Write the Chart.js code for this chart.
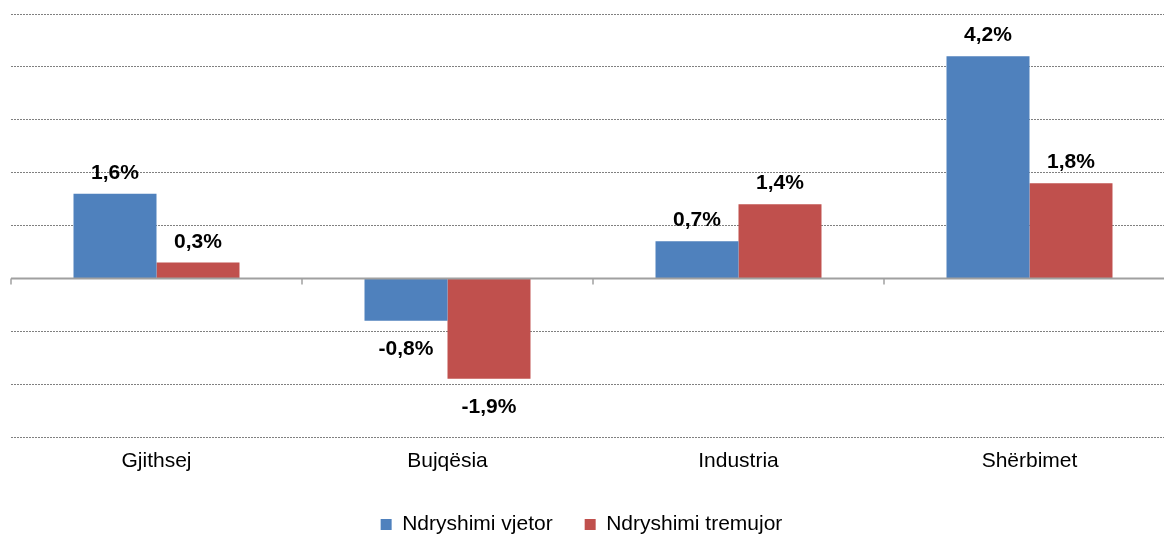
<!DOCTYPE html>
<html>
<head>
<meta charset="utf-8">
<script src="https://cdn.jsdelivr.net/npm/chart.js@4/dist/chart.umd.min.js"></script>
<style>
  html, body { margin: 0; padding: 0; width: 1164px; height: 538px; overflow: hidden; background: #fff; }
  #wrap { position: absolute; left: -24px; top: 0; width: 1204px; height: 545px; }
</style>
</head>
<body>
<div id="wrap"><canvas id="c" width="1204" height="545"></canvas></div>
<script>
const categories = ['Gjithsej', 'Bujqësia', 'Industria', 'Shërbimet'];
const seriesNames = ['Ndryshimi vjetor', 'Ndryshimi tremujor'];
const vjetor = [1.6, -0.8, 0.7, 4.2];
const tremujor = [0.3, -1.9, 1.4, 1.8];
const yMin = -3, yMax = 5, yStep = 1;

const FONT = "'Liberation Sans', Arial, sans-serif";

const zeroAxis = {
  id: 'zeroAxis',
  afterDatasetsDraw(chart) {
    const {ctx, chartArea, scales} = chart;
    const y0 = scales.y.getPixelForValue(0);
    ctx.save();
    ctx.strokeStyle = '#a0a0a0';
    ctx.lineWidth = 2;
    ctx.beginPath();
    ctx.moveTo(chartArea.left, y0);
    ctx.lineTo(chartArea.right, y0);
    ctx.stroke();
    const n = categories.length;
    const w = (chartArea.right - chartArea.left) / n;
    ctx.lineWidth = 1.5;
    for (let i = 0; i <= n; i++) {
      const x = Math.round(scales.x.getPixelForValue(Math.min(i, n - 1)) + (i < n ? -w / 2 : w / 2));
      ctx.beginPath();
      ctx.moveTo(x, y0);
      ctx.lineTo(x, y0 + 6);
      ctx.stroke();
    }
    ctx.restore();
  }
};

const valueLabels = {
  id: 'valueLabels',
  afterDatasetsDraw(chart) {
    const {ctx} = chart;
    ctx.save();
    ctx.font = "bold 21px " + FONT;
    ctx.fillStyle = '#000';
    ctx.textAlign = 'center';
    ctx.textBaseline = 'alphabetic';
    chart.data.datasets.forEach((ds, di) => {
      const meta = chart.getDatasetMeta(di);
      meta.data.forEach((bar, i) => {
        const v = ds.data[i];
        const txt = v.toFixed(1).replace('.', ',') + '%';
        const y = v >= 0 ? bar.y - 15 : bar.y + 34;
        ctx.fillText(txt, bar.x, y);
      });
    });
    ctx.restore();
  }
};

new Chart(document.getElementById('c'), {
  type: 'bar',
  data: {
    labels: categories,
    datasets: [
      { label: seriesNames[0], data: vjetor, backgroundColor: '#4F81BD', borderWidth: 0 },
      { label: seriesNames[1], data: tremujor, backgroundColor: '#C0504D', borderWidth: 0 }
    ]
  },
  options: {
    responsive: false,
    animation: false,
    events: [],
    layout: { padding: { left: 12, right: 5, top: 14, bottom: 0 } },
    datasets: { bar: { barPercentage: 1, categoryPercentage: 0.5704 } },
    scales: {
      x: {
        grid: { display: false },
        border: { display: false },
        ticks: { color: '#000', font: { family: FONT, size: 21 }, padding: 4, maxRotation: 0, autoSkip: false },
        afterFit(s) { s.height = 45; }
      },
      y: {
        min: yMin, max: yMax,
        ticks: { display: false, stepSize: yStep },
        grid: { color: '#808080', lineWidth: 1, drawTicks: false },
        border: { display: false, dash: [2, 1] },
        afterFit(s) { s.width = 23; }
      }
    },
    plugins: {
      tooltip: { enabled: false },
      legend: {
        position: 'bottom',
        labels: { boxWidth: 11, boxHeight: 11, padding: 32, color: '#000', font: { family: FONT, size: 21 } }
      }
    }
  },
  plugins: [zeroAxis, valueLabels]
});
</script>
</body>
</html>
